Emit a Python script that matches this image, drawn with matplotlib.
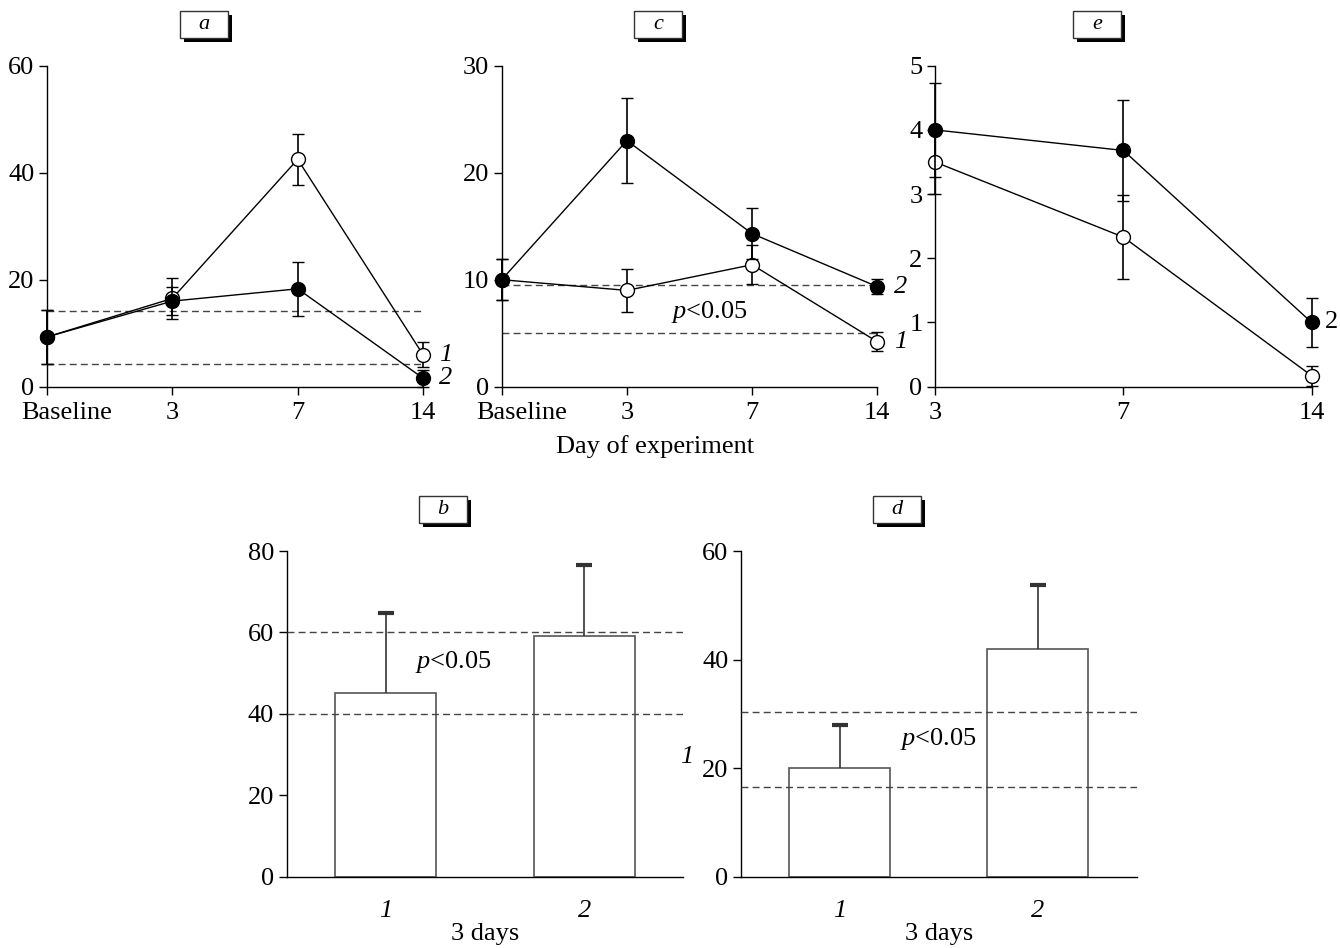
import matplotlib
matplotlib.use("Agg")
import matplotlib.pyplot as plt
from matplotlib.patches import Rectangle
from matplotlib.transforms import ScaledTranslation

plt.rcParams['font.family'] = ['Liberation Serif', 'DejaVu Serif']
plt.rcParams['mathtext.fontset'] = 'custom'
plt.rcParams['mathtext.it'] = 'Liberation Serif:italic'
plt.rcParams['mathtext.rm'] = 'Liberation Serif'

# --- data ---
days_abc = ['Baseline', '3', '7', '14']
a_open = [9.3, 16.5, 42.5, 6.0]
a_open_err = [5.0, 3.9, 4.8, 2.3]
a_fill = [9.3, 16.0, 18.3, 1.6]
a_fill_err = [5.0, 2.6, 5.0, 1.6]
a_ref = [14.2, 4.2]

c_open = [10.0, 9.0, 11.4, 4.2]
c_open_err = [1.9, 2.0, 1.8, 0.9]
c_fill = [10.0, 23.0, 14.3, 9.35]
c_fill_err = [1.9, 4.0, 2.4, 0.7]
c_ref = [9.5, 5.0]

days_e = ['3', '7', '14']
e_open = [3.5, 2.33, 0.17]
e_open_err = [0.5, 0.65, 0.16]
e_fill = [4.0, 3.68, 1.0]
e_fill_err = [0.73, 0.79, 0.38]

groups = ['1', '2']
b_vals = [45.0, 59.1]
b_err = [19.7, 17.5]
b_ref = [60, 40]
d_vals = [20.0, 42.0]
d_err = [7.9, 11.7]
d_ref = [30.4, 16.6]

FS = 19
W, H = 1340, 948
fig = plt.figure(figsize=(W/100, H/100), dpi=100)

def ax_px(l, t, r, b):
    return fig.add_axes([l/W, 1-b/H, (r-l)/W, (b-t)/H])

def style(ax):
    for s in ('top', 'right'):
        ax.spines[s].set_visible(False)
    for s in ('left', 'bottom'):
        ax.spines[s].set_linewidth(1.0)
    ax.tick_params(direction='out', length=6, width=1, labelsize=FS, pad=3)
    ax.tick_params(axis='x', pad=5)

def tag(cx, top, letter):
    w, h = 48, 27
    l = cx - w/2
    fig.patches.append(Rectangle(((l+4)/W, 1-(top+h+4)/H), w/W, h/H,
                                 transform=fig.transFigure, fc='black', ec='black', lw=0))
    fig.patches.append(Rectangle((l/W, 1-(top+h)/H), w/W, h/H,
                                 transform=fig.transFigure, fc='white', ec='#333333', lw=1))
    fig.text(cx/W, 1-(top+h/2)/H, letter, ha='center', va='center',
             fontsize=16, style='italic')

def line_panel(ax, labels, opn, opn_e, fil, fil_e, ymax, yt):
    x = list(range(len(labels)))
    kw = dict(color='black', lw=1, elinewidth=1.2, capsize=4, capthick=2.2,
              ms=10, mew=1, clip_on=False)
    c1 = ax.errorbar(x, opn, yerr=opn_e, fmt='-o', mfc='white', mec='black', zorder=3, **kw)
    c2 = ax.errorbar(x, fil, yerr=fil_e, fmt='-o', mfc='black', mec='black', zorder=4, **kw)
    for c in (c1, c2):
        for art in c.get_children():
            art.set_clip_on(False)
    ax.set_xlim(0, len(labels)-1)
    ax.set_ylim(0, ymax)
    ax.set_xticks(x)
    ax.set_xticklabels(labels)
    ax.set_yticks(yt)
    style(ax)

# --- panel a ---
ax_a = ax_px(47, 65.7, 423, 386.7)
line_panel(ax_a, days_abc, a_open, a_open_err, a_fill, a_fill_err, 60, [0, 20, 40, 60])
for y in a_ref:
    ax_a.axhline(y, color='#444444', lw=1, ls=(0, (5, 3)), zorder=1)
ax_a.text(3.13, a_open[3], '1', fontsize=FS, style='italic', va='center', ha='left')
ax_a.text(3.13, a_fill[3], '2', fontsize=FS, style='italic', va='center', ha='left')

# --- panel c ---
ax_c = ax_px(501.7, 65.7, 877.3, 386.7)
line_panel(ax_c, days_abc, c_open, c_open_err, c_fill, c_fill_err, 30, [0, 10, 20, 30])
for y in c_ref:
    ax_c.axhline(y, color='#444444', lw=1, ls=(0, (5, 3)), zorder=1)
ax_c.text(3.13, c_fill[3], '2', fontsize=FS, style='italic', va='center', ha='left')
ax_c.text(3.13, c_open[3], '1', fontsize=FS, style='italic', va='center', ha='left')
ax_c.text(1.66, 7.0, r'$p$<0.05', fontsize=FS, ha='center', va='center')

# shift "Baseline" right like the original
for ax in (ax_a, ax_c):
    lab = ax.get_xticklabels()[0]
    lab.set_transform(lab.get_transform() + ScaledTranslation(0.2, 0, fig.dpi_scale_trans))

# --- panel e ---
ax_e = ax_px(935, 65.7, 1311.7, 386.7)
line_panel(ax_e, days_e, e_open, e_open_err, e_fill, e_fill_err, 5, [0, 1, 2, 3, 4, 5])
ax_e.text(2.07, e_fill[2], '2', fontsize=FS, va='center', ha='left')

fig.text(655/W, 1-447/H, 'Day of experiment', ha='center', va='center', fontsize=FS)

# --- bar panels ---
def bar_panel(ax, vals, errs, refs, ymax, yt, ptxt):
    x = [0, 1]
    tops = [v + e for v, e in zip(vals, errs)]
    ax.bar(x, vals, width=0.51, color='white', edgecolor='#555555', lw=1.2, zorder=2)
    # upper error only, cap at top
    ax.vlines(x, vals, tops, color='#333333', lw=1.2, zorder=3)
    ax.plot(x, tops, ls='none', marker='_', ms=11, mew=3, color='#333333', zorder=3)
    for y in refs:
        ax.axhline(y, color='#444444', lw=1, ls=(0, (5, 3)), zorder=4)
    ax.set_xlim(-0.5, 1.5)
    ax.set_ylim(0, ymax)
    ax.set_yticks(yt)
    ax.set_xticks(x)
    ax.set_xticklabels(groups, style='italic')
    style(ax)
    ax.tick_params(axis='x', length=0, pad=17)
    ax.text(ptxt[0], ptxt[1], r'$p$<0.05', fontsize=FS, ha='center', va='center')
    # "3 days" sits just below the group labels
    ax.text(0.5, -0.175, '3 days', transform=ax.transAxes, fontsize=FS,
            ha='center', va='center')

ax_b = ax_px(286.7, 551, 683.3, 876.7)
bar_panel(ax_b, b_vals, b_err, b_ref, 80, [0, 20, 40, 60, 80], (0.34, 52.8))
ax_b.text(1.515, 29.5, '1', fontsize=FS, style='italic', va='center', ha='center')

ax_d = ax_px(741, 551, 1136.7, 876.7)
bar_panel(ax_d, d_vals, d_err, d_ref, 60, [0, 20, 40, 60], (0.5, 25.3))

# panel tags
tag(204, 11, 'a')
tag(658, 11, 'c')
tag(1097, 11, 'e')
tag(443, 496, 'b')
tag(897, 496, 'd')

fig.savefig("out.png", dpi=100)
